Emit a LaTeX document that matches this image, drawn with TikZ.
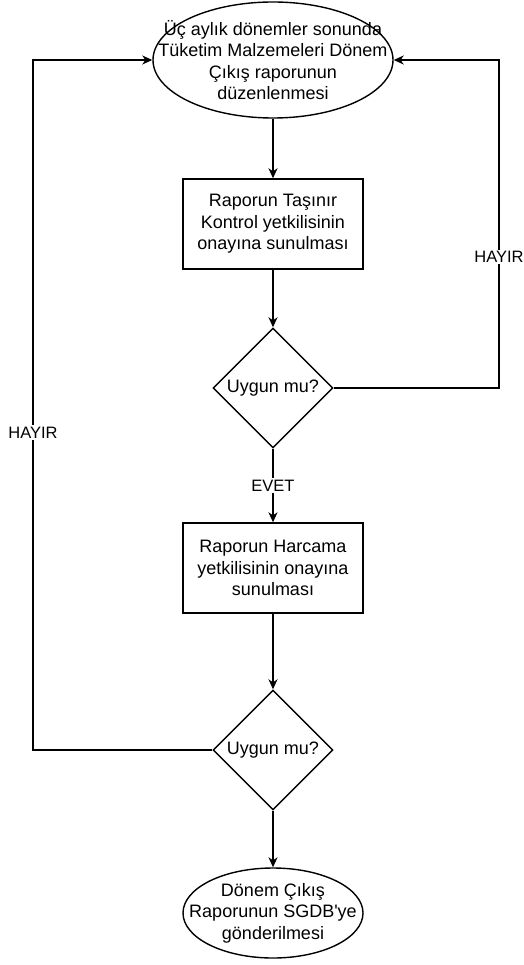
\documentclass[tikz,border=0pt]{standalone}
\usepackage{fontspec}
\setmainfont{Liberation Sans}
\usetikzlibrary{shapes.geometric,arrows.meta}

\begin{document}
\begin{tikzpicture}[x=1pt,y=-1pt,line width=1.4pt,
  every node/.style={font=\fontsize{18}{21.6}\selectfont,align=center},
  term/.style={draw,ellipse,inner sep=0pt},
  proc/.style={draw,rectangle,minimum width=180pt,minimum height=90pt,inner sep=0pt},
  dec/.style={draw,diamond,minimum width=120pt,minimum height=120pt,inner sep=0pt},
  lbl/.style={fill=white,font=\fontsize{16.5}{19}\selectfont,inner sep=1.5pt},
  arr/.style={-{Stealth[length=10pt,width=9pt,inset=3pt]}}]
  \useasboundingbox (0,0) rectangle (523,965);
      \node[term,minimum width=240pt,minimum height=116pt] (start) at (273,60) {};
      \node (starttext) at (start) {Üç aylık dönemler sonunda\\Tüketim Malzemeleri Dönem\\Çıkış raporunun\\düzenlenmesi};
      \node[proc] (tasinir) at (273,224) {Raporun Taşınır\\Kontrol yetkilisinin\\onayına sunulması};
      \node[dec] (uygun1) at (273,388) {Uygun mu?};
      \node[proc] (harcama) at (273,568) {Raporun Harcama\\yetkilisinin onayına\\sunulması};
      \node[dec] (uygun2) at (273,750) {Uygun mu?};
      \node[term,minimum width=180pt,minimum height=90pt] (stop) at (273,913) {};
      \node (stoptext) at (stop) {Dönem Çıkış\\Raporunun SGDB\textquotesingle ye\\gönderilmesi};
      \coordinate (rback) at (499,60);
      \coordinate (lback) at (33,60);
      \draw[arr] (start) -- (tasinir);
      \draw[arr] (tasinir) -- (uygun1);
      \draw[arr] (uygun1) -- node[lbl] {EVET} (harcama);
      \draw[arr] (harcama) -- (uygun2);
      \draw[arr] (uygun2) -- (stop);
      \draw[arr] (uygun1.east) -| node[lbl,pos=0.7] {HAYIR} (rback) -- (start.east);
      \draw[arr] (uygun2.west) -| node[lbl,pos=0.73] {HAYIR} (lback) -- (start.west);
\end{tikzpicture}
\end{document}
